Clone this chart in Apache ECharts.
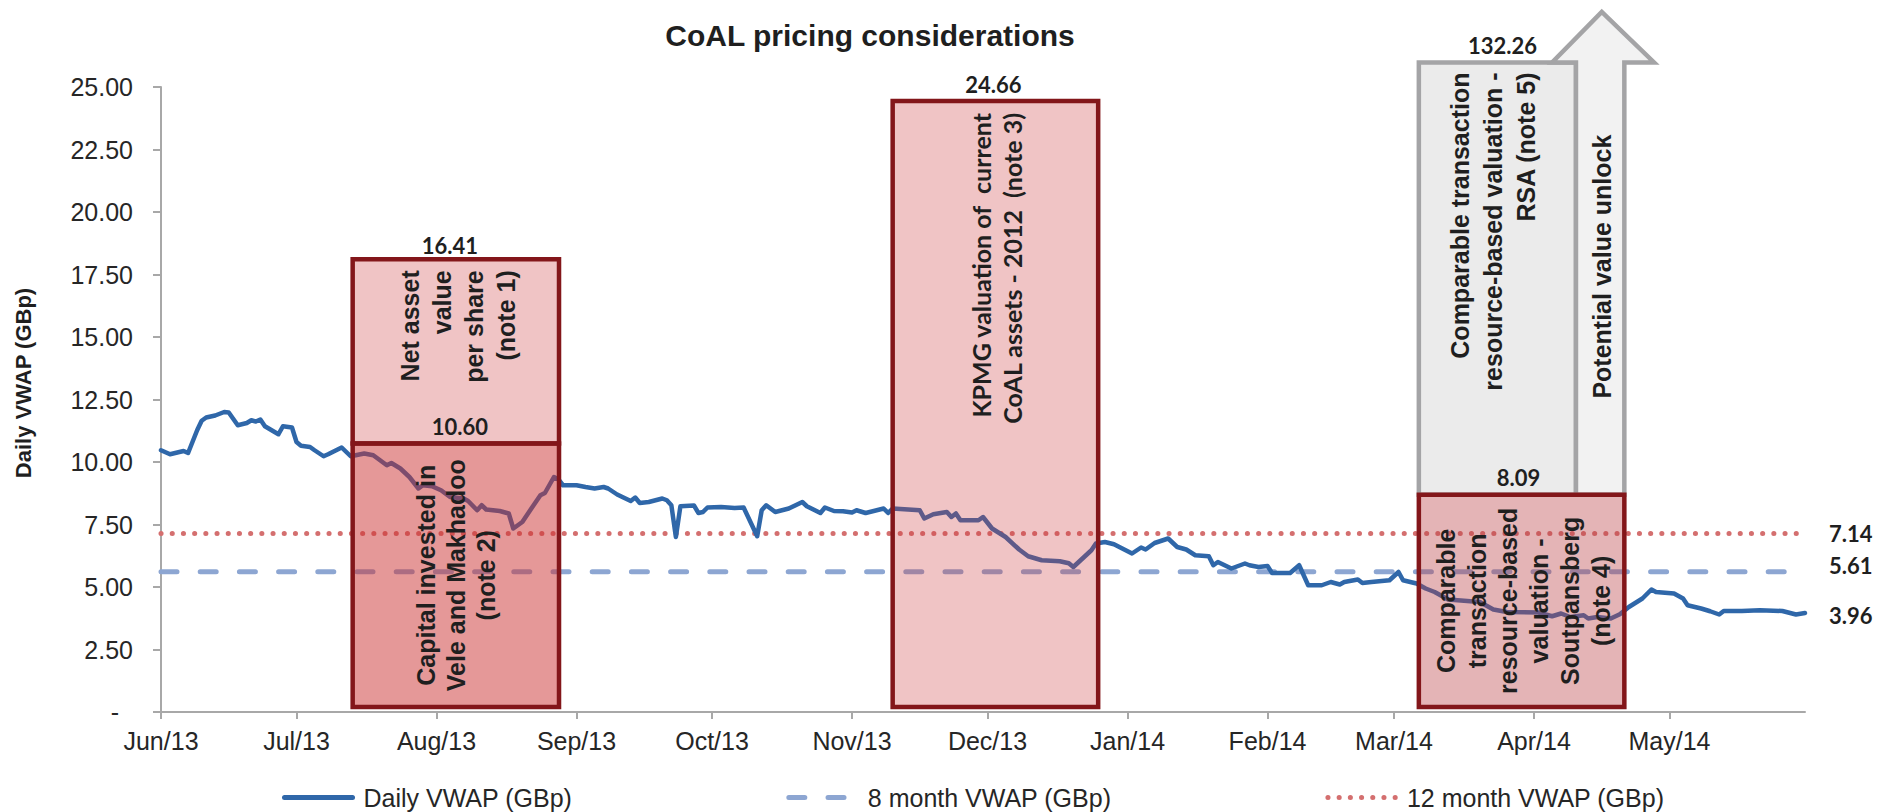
<!DOCTYPE html>
<html>
<head>
<meta charset="utf-8">
<script src="https://cdn.jsdelivr.net/npm/echarts@6/dist/echarts.min.js"></script>
<style>
html,body{margin:0;padding:0;background:#ffffff;}
#chart{width:1877px;height:812px;}
</style>
</head>
<body>
<div id="chart"></div>
<script>
// ---------- DATA ----------
const chartTitle = 'CoAL pricing considerations';
const yAxisTitle = 'Daily VWAP (GBp)';
const axisStart = '2013-06-01';
const axisEnd = '2014-05-31';
const yMin = 0, yMax = 25, yStep = 2.5;

const monthTicks = ['2013-06-01','2013-07-01','2013-08-01','2013-09-01','2013-10-01','2013-11-01',
  '2013-12-01','2014-01-01','2014-02-01','2014-03-01','2014-04-01','2014-05-01'];
const monthLabels = ['Jun/13','Jul/13','Aug/13','Sep/13','Oct/13','Nov/13',
  'Dec/13','Jan/14','Feb/14','Mar/14','Apr/14','May/14'];

const seriesNames = ['Daily VWAP (GBp)', '8 month VWAP (GBp)', '12 month VWAP (GBp)'];

const dailyDates = [
'2013-06-01','2013-06-03','2013-06-06','2013-06-07','2013-06-09','2013-06-10','2013-06-11','2013-06-13','2013-06-15','2013-06-16','2013-06-18','2013-06-20','2013-06-21','2013-06-22','2013-06-23','2013-06-24','2013-06-27','2013-06-28','2013-06-30',
'2013-07-01','2013-07-02','2013-07-04','2013-07-05','2013-07-07','2013-07-08','2013-07-11','2013-07-13','2013-07-16','2013-07-18','2013-07-21','2013-07-22','2013-07-24','2013-07-26','2013-07-28','2013-07-29','2013-07-31',
'2013-08-02','2013-08-04','2013-08-07','2013-08-08','2013-08-10','2013-08-11','2013-08-12','2013-08-15','2013-08-17','2013-08-18','2013-08-20','2013-08-22','2013-08-24','2013-08-25','2013-08-27','2013-08-28','2013-08-29',
'2013-09-01','2013-09-03','2013-09-05','2013-09-07','2013-09-08','2013-09-10','2013-09-13','2013-09-14','2013-09-15','2013-09-17','2013-09-20','2013-09-21','2013-09-22','2013-09-23','2013-09-24','2013-09-27','2013-09-28','2013-09-29','2013-09-30',
'2013-10-03','2013-10-06','2013-10-08','2013-10-11','2013-10-12','2013-10-13','2013-10-15','2013-10-18','2013-10-21','2013-10-22','2013-10-25','2013-10-26','2013-10-28','2013-10-30',
'2013-11-01','2013-11-02','2013-11-04','2013-11-08','2013-11-09','2013-11-10','2013-11-16','2013-11-17','2013-11-19','2013-11-22','2013-11-23','2013-11-24','2013-11-25','2013-11-29','2013-11-30',
'2013-12-02','2013-12-05','2013-12-08','2013-12-10','2013-12-13','2013-12-17','2013-12-19','2013-12-20','2013-12-24','2013-12-25','2013-12-27','2013-12-29',
'2014-01-02','2014-01-04','2014-01-05','2014-01-07','2014-01-10','2014-01-12','2014-01-14','2014-01-16','2014-01-19','2014-01-20','2014-01-21','2014-01-24','2014-01-27','2014-01-28','2014-01-30',
'2014-02-01','2014-02-02','2014-02-06','2014-02-08','2014-02-10','2014-02-13','2014-02-15','2014-02-17','2014-02-18','2014-02-21','2014-02-22','2014-02-24','2014-02-28',
'2014-03-02','2014-03-03','2014-03-06','2014-03-08','2014-03-10','2014-03-13','2014-03-20','2014-03-23','2014-03-26',
'2014-04-02','2014-04-05','2014-04-07','2014-04-09','2014-04-12','2014-04-13','2014-04-15','2014-04-18','2014-04-20','2014-04-22','2014-04-25','2014-04-27','2014-04-28',
'2014-05-02','2014-05-04','2014-05-05','2014-05-08','2014-05-10','2014-05-12','2014-05-13','2014-05-17','2014-05-21','2014-05-26','2014-05-29','2014-05-31'
];
const dailyVwap = [
10.47,10.31,10.44,10.36,11.27,11.65,11.78,11.86,12.00,11.98,11.47,11.56,11.67,11.62,11.70,11.43,11.11,11.43,11.38,
10.80,10.65,10.60,10.47,10.23,10.31,10.58,10.23,10.34,10.27,9.87,9.96,9.74,9.40,8.94,9.07,9.03,
8.87,8.60,8.54,8.44,8.07,8.27,8.10,8.04,7.94,7.34,7.60,8.14,8.67,8.76,9.40,9.30,9.07,
9.07,9.00,8.94,9.00,8.94,8.70,8.44,8.58,8.36,8.40,8.54,8.47,8.27,7.00,8.23,8.26,7.96,8.00,8.18,
8.20,8.16,8.18,7.03,8.07,8.27,8.00,8.14,8.40,8.23,7.96,8.18,8.04,8.03,
7.98,8.07,7.96,8.14,7.96,8.14,8.07,7.74,7.91,8.00,7.80,7.94,7.67,7.67,7.80,
7.34,7.00,6.50,6.23,6.07,6.03,5.95,5.80,6.47,6.74,6.80,6.71,
6.34,6.58,6.50,6.76,6.94,6.60,6.50,6.27,6.23,5.87,6.00,5.74,5.94,5.87,5.80,
5.84,5.56,5.56,5.87,5.07,5.07,5.20,5.10,5.20,5.30,5.16,5.20,5.27,
5.60,5.27,5.14,4.94,4.80,4.50,4.40,4.10,4.00,
3.98,3.83,3.94,3.80,3.87,3.74,3.80,3.74,3.91,4.20,4.54,4.90,4.80,
4.74,4.54,4.27,4.14,4.03,3.90,4.04,4.04,4.07,4.04,3.90,3.96
];
const vwap8Month = 5.61;
const vwap12Month = 7.14;

// valuation boxes (order = drawing order)
const boxIds = ['rsa', 'nav', 'capital', 'kpmg', 'soutpansberg'];
const boxStart = ['2014-03-06 12:00','2013-07-13 10:30','2013-07-13 10:30','2013-11-10 00:00','2014-03-06 12:00'];
const boxEnd   = ['2014-04-10 07:00','2013-08-28 03:00','2013-08-28 03:00','2013-12-25 12:00','2014-04-21 00:00'];
const boxLow   = [8.69, 10.74, 0.2, 0.2, 0.2];
const boxHigh  = [25.98, 18.11, 10.74, 24.44, 8.69];
const boxValueLabels = ['132.26', '16.41', '10.60', '24.66', '8.09'];
const boxTexts = [
  'Comparable transaction\nresource-based valuation -\nRSA (note 5)',
  'Net asset\nvalue\nper share\n(note 1)',
  'Capital invested in\nVele and Makhadoo\n(note 2)',
  'KPMG valuation of \u00a0current\nCoAL assets - 2012 \u00a0(note 3)',
  'Comparable\ntransaction\nresource-based\nvaluation -\nSoutpansberg\n(note 4)'
];

// "potential value unlock" arrow
const arrowText = 'Potential value unlock';
const arrowShaftStart = '2014-04-10 07:00';
const arrowShaftEnd = '2014-04-21 00:00';
const arrowHeadStart = '2014-04-05 00:00';
const arrowHeadEnd = '2014-04-27 14:00';
const arrowTipDate = '2014-04-16 00:00';
const arrowBase = 8.69;
const arrowHeadBase = 25.98;
const arrowTip = 28.0;

// ---------- HELPERS / STYLES ----------
function toTs(s) {
  const m = s.match(/(\d+)-(\d+)-(\d+)(?:\s+(\d+):(\d+))?/);
  return Date.UTC(+m[1], +m[2] - 1, +m[3], m[4] ? +m[4] : 0, m[5] ? +m[5] : 0);
}
const SANS = '"Liberation Sans", Arial, sans-serif';
const HUM = 'Lato, "Open Sans", sans-serif';
const TXT = '#1f1f1f';
const AXIS = '#a8a8a8';
const RED = '#83161a';
const GRAY = '#a4a4a6';

const boxStyles = {
  rsa:          { fill: '#ebebeb', stroke: GRAY, anchor: 'top', font: 'bold 25px ' + SANS, lh: 33, dx: -4, pad: 10, labelDx: 5 },
  nav:          { fill: 'rgba(205,58,62,0.30)', stroke: RED, anchor: 'top', font: 'bold 25px ' + SANS, lh: 32, dx: 2, pad: 11, labelDx: -6 },
  capital:      { fill: 'rgba(203,49,49,0.50)', stroke: RED, anchor: 'center', font: 'bold 25px ' + SANS, lh: 30, dx: 0, pad: 0, labelDx: 4 },
  kpmg:         { fill: 'rgba(205,58,62,0.30)', stroke: RED, anchor: 'top', font: 'bold 25px ' + HUM, lh: 31, dx: 1, pad: 12, labelDx: -2 },
  soutpansberg: { fill: 'rgba(188,68,72,0.40)', stroke: RED, anchor: 'center', font: 'bold 25px ' + SANS, lh: 31, dx: 2, pad: 0, labelDx: -3 }
};

const labelByTs = {};
monthTicks.forEach((d, i) => { labelByTs[toTs(d)] = monthLabels[i]; });
const tickTs = monthTicks.map(toTs);

const boxData = boxIds.map((id, i) => [toTs(boxStart[i]), toTs(boxEnd[i]), boxLow[i], boxHigh[i]]);

function renderBox(params, api) {
  const i = params.dataIndex;
  const id = boxIds[i];
  const st = boxStyles[id];
  const p0 = api.coord([api.value(0), api.value(2)]);
  const p1 = api.coord([api.value(1), api.value(3)]);
  const x = p0[0], y = p1[1], w = p1[0] - p0[0], h = p0[1] - p1[1];
  const cx = x + w / 2;
  const children = [];
  children.push({
    type: 'rect', shape: { x: x, y: y, width: w, height: h },
    style: { fill: st.fill, stroke: st.stroke, lineWidth: 4.5 }
  });
  if (id === 'rsa') {
    const b0 = api.coord([toTs(arrowShaftStart), arrowBase]);
    const b1 = api.coord([toTs(arrowShaftEnd), arrowBase]);
    const s0 = api.coord([toTs(arrowShaftStart), arrowHeadBase]);
    const s1 = api.coord([toTs(arrowShaftEnd), arrowHeadBase]);
    const h0 = api.coord([toTs(arrowHeadStart), arrowHeadBase]);
    const h1 = api.coord([toTs(arrowHeadEnd), arrowHeadBase]);
    const tp = api.coord([toTs(arrowTipDate), arrowTip]);
    children.push({
      type: 'polygon',
      shape: { points: [b0, s0, h0, tp, h1, s1, b1] },
      style: { fill: '#f2f2f2', stroke: GRAY, lineWidth: 4.5, lineJoin: 'miter' }
    });
    children.push({
      type: 'text', x: (b0[0] + b1[0]) / 2 + 2, y: (s0[1] + b0[1]) / 2 - 12, rotation: Math.PI / 2,
      style: { text: arrowText, font: 'bold 25px ' + SANS, fill: TXT, align: 'center', verticalAlign: 'middle' }
    });
  }
  children.push({
    type: 'text', x: cx + st.labelDx, y: y - (id === 'nav' ? 14 : 17),
    style: { text: boxValueLabels[i], font: 'bold 22px ' + HUM, fill: TXT, align: 'center', verticalAlign: 'middle' }
  });
  if (st.anchor === 'top') {
    children.push({
      type: 'text', x: cx + st.dx, y: y + st.pad, rotation: Math.PI / 2,
      style: { text: boxTexts[i], font: st.font, lineHeight: st.lh, fill: TXT, align: 'right', verticalAlign: 'middle' }
    });
  } else {
    children.push({
      type: 'text', x: cx + st.dx, y: y + h / 2, rotation: Math.PI / 2,
      style: { text: boxTexts[i], font: st.font, lineHeight: st.lh, fill: TXT, align: 'center', verticalAlign: 'middle' }
    });
  }
  return { type: 'group', children: children };
}

const chart = echarts.init(document.getElementById('chart'), null, { renderer: 'svg', width: 1877, height: 812 });

const endLabelStyle = (offsetY) => ({
  show: true,
  formatter: p => (+p.value[1]).toFixed(2),
  distance: 24,
  offset: [0, offsetY],
  fontFamily: HUM, fontWeight: 'bold', fontSize: 22, color: TXT
});

const hiddenSymbol = { color: 'rgba(0,0,0,0)', borderWidth: 0, opacity: 0 };

const option = {
  animation: false,
  backgroundColor: '#ffffff',
  graphic: [
    { type: 'text', x: 870, y: 35,
      style: { text: chartTitle, font: 'bold 30px ' + SANS, fill: TXT, align: 'center', verticalAlign: 'middle' } },
    { type: 'text', x: 23, y: 383, rotation: Math.PI / 2,
      style: { text: yAxisTitle, font: 'bold 22px ' + SANS, fill: TXT, align: 'center', verticalAlign: 'middle' } }
  ],
  grid: { left: 161, right: 72, top: 87, bottom: 100, outerBoundsMode: 'none', containLabel: false },
  legend: {
    left: 277, top: 780,
    itemWidth: 68, itemHeight: 14, itemGap: 214,
    textStyle: { fontSize: 25, fontFamily: SANS, color: '#262626', padding: [0, 0, 0, 6] },
    data: [
      { name: seriesNames[0], lineStyle: { width: 5 }, itemStyle: hiddenSymbol },
      { name: seriesNames[1], lineStyle: { width: 5 }, itemStyle: hiddenSymbol },
      { name: seriesNames[2], lineStyle: { width: 5 }, itemStyle: hiddenSymbol }
    ]
  },
  xAxis: {
    type: 'value',
    min: toTs(axisStart), max: toTs(axisEnd),
    axisLine: { show: true, lineStyle: { color: AXIS, width: 2 } },
    axisTick: { show: true, length: 7, lineStyle: { color: AXIS, width: 2 }, customValues: tickTs },
    axisLabel: {
      customValues: tickTs, margin: 16,
      fontSize: 25, fontFamily: SANS, color: '#262626',
      formatter: v => labelByTs[v] || ''
    },
    splitLine: { show: false }
  },
  yAxis: {
    type: 'value', min: yMin, max: yMax, interval: yStep,
    axisLine: { show: true, lineStyle: { color: AXIS, width: 2 } },
    axisTick: { show: true, length: 8, lineStyle: { color: AXIS, width: 2 } },
    axisLabel: {
      margin: 28, fontSize: 25, fontFamily: SANS, color: '#262626',
      formatter: v => (v === 0 ? '-  ' : v.toFixed(2))
    },
    splitLine: { show: false }
  },
  series: [
    {
      name: seriesNames[2], type: 'line', symbol: 'none', z: 2, silent: true,
      data: [[toTs(axisStart), vwap12Month], [toTs(axisEnd), vwap12Month]],
      lineStyle: { color: '#d46f6f', width: 5, type: [0.1, 11.1], cap: 'round' },
      itemStyle: { color: '#d46f6f' },
      endLabel: endLabelStyle(0)
    },
    {
      name: seriesNames[1], type: 'line', symbol: 'none', z: 2, silent: true,
      data: [[toTs(axisStart), vwap8Month], [toTs(axisEnd), vwap8Month]],
      lineStyle: { color: '#8da6d2', width: 5, type: [16, 23.2], cap: 'round' },
      itemStyle: { color: '#8da6d2' },
      endLabel: endLabelStyle(-6)
    },
    {
      name: seriesNames[0], type: 'line', symbol: 'none', z: 3, silent: true,
      data: dailyDates.map((d, i) => [toTs(d), dailyVwap[i]]),
      lineStyle: { color: '#2f67a9', width: 4.5, join: 'round', cap: 'round' },
      itemStyle: { color: '#2f67a9' },
      endLabel: endLabelStyle(2)
    },
    {
      name: 'valuations', type: 'custom', z: 6, clip: false, silent: true,
      renderItem: renderBox,
      dimensions: ['start', 'end', 'low', 'high'],
      encode: { x: [0, 1], y: [2, 3] },
      data: boxData
    }
  ]
};
chart.setOption(option);
</script>
</body>
</html>
